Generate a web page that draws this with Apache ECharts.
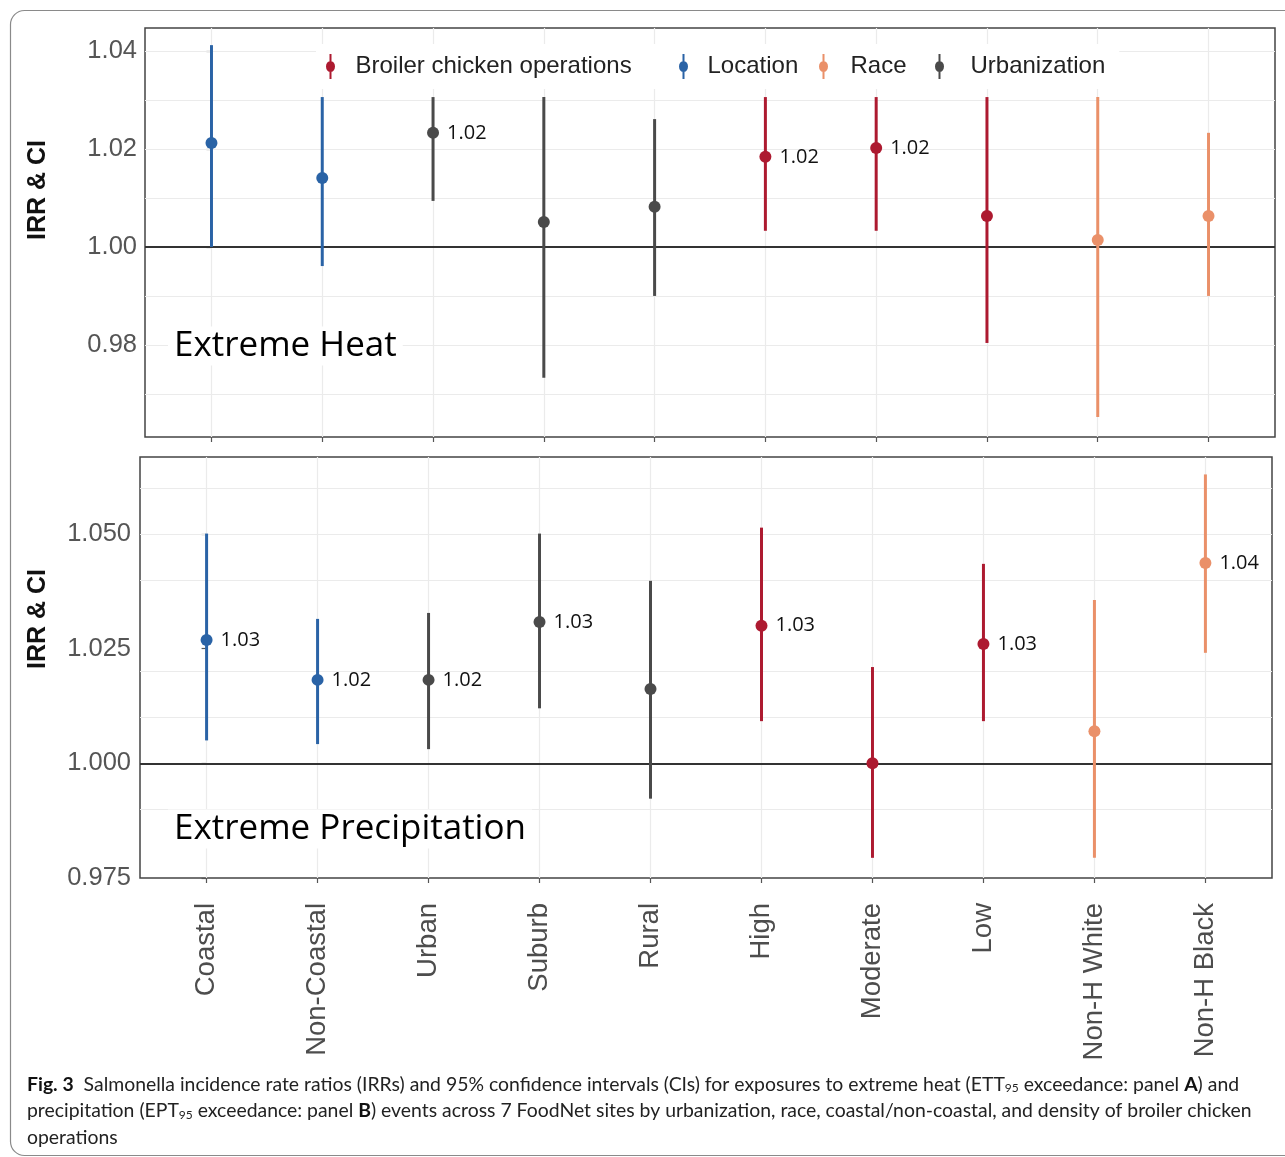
<!DOCTYPE html>
<html>
<head>
<meta charset="utf-8">
<script src="https://cdn.jsdelivr.net/npm/echarts@6/dist/echarts.min.js"></script>
<style>
html,body{margin:0;padding:0;background:#fff;}
#chart{width:1285px;height:1157px;}
</style>
</head>
<body>
<div id="chart"></div>
<script>
// ---------- data ----------
const categories = ['Coastal','Non-Coastal','Urban','Suburb','Rural','High','Moderate','Low','Non-H White','Non-H Black'];
const categoryGroups = ['Location','Location','Urbanization','Urbanization','Urbanization',
  'Broiler chicken operations','Broiler chicken operations','Broiler chicken operations','Race','Race'];
const groupNames = ['Broiler chicken operations','Location','Race','Urbanization'];

// Panel A: Extreme Heat
const heatEst = [1.0212, 1.0141, 1.0233, 1.0051, 1.0082, 1.0184, 1.0202, 1.0063, 1.0014, 1.0063];
const heatLo  = [1.0000, 0.9961, 1.0094, 0.9733, 0.9900, 1.0033, 1.0033, 0.9804, 0.9653, 0.9900];
const heatHi  = [1.0412, 1.0306, 1.0306, 1.0306, 1.0261, 1.0306, 1.0306, 1.0306, 1.0306, 1.0233];
const heatLabels = ['', '', '1.02', '', '', '1.02', '1.02', '', '', ''];

// Panel B: Extreme Precipitation
const precipEst = [1.0269, 1.0182, 1.0182, 1.0308, 1.0162, 1.0300, 1.0000, 1.0260, 1.0070, 1.0437];
const precipLo  = [1.0050, 1.0042, 1.0031, 1.0120, 0.9923, 1.0092, 0.9794, 1.0092, 0.9794, 1.0241];
const precipHi  = [1.0501, 1.0315, 1.0328, 1.0501, 1.0398, 1.0514, 1.0210, 1.0435, 1.0356, 1.0630];
const precipLabels = ['1.03', '1.02', '1.02', '1.03', '', '1.03', '', '1.03', '', '1.04'];

// axis ticks
const heatTicks = [0.98, 1.00, 1.02, 1.04];
const heatTickLabels = ['0.98', '1.00', '1.02', '1.04'];
const heatGridValues = [0.97, 0.98, 0.99, 1.00, 1.01, 1.02, 1.03, 1.04];
const precipTicks = [0.975, 1.000, 1.025, 1.050];
const precipTickLabels = ['0.975', '1.000', '1.025', '1.050'];
const precipGridValues = [0.975, 0.9875, 1.000, 1.0125, 1.025, 1.0375, 1.050, 1.0625];
const referenceValue = 1.0;

// ---------- styles ----------
const groupColors = {
  'Broiler chicken operations': '#ad1a30',
  'Location': '#2a63a6',
  'Race': '#ea9069',
  'Urbanization': '#4a4a4a'
};
const catIndex = categories.map((c, i) => i);

function makeSeries(panel, est, lo, hi, labels) {
  const out = [];
  groupNames.forEach(g => {
    const data = catIndex.filter(i => categoryGroups[i] === g)
      .map(i => [i, est[i], lo[i], hi[i], labels[i]]);
    out.push({
      type: 'custom',
      name: g,
      xAxisIndex: panel,
      yAxisIndex: panel,
      z: 5,
      itemStyle: { color: groupColors[g] },
      data: data,
      animation: false,
      renderItem: function (params, api) {
        const x = api.value(0);
        const pe = api.coord([x, api.value(1)]);
        const pl = api.coord([x, api.value(2)]);
        const ph = api.coord([x, api.value(3)]);
        const lab = data[params.dataIndex][4];
        const col = groupColors[g];
        const children = [
          { type: 'line', shape: { x1: pl[0], y1: pl[1], x2: ph[0], y2: ph[1] },
            style: { stroke: col, lineWidth: 3 } },
          { type: 'circle', shape: { cx: pe[0], cy: pe[1], r: 6 }, style: { fill: col } }
        ];
        if (lab) {
          children.push({ type: 'text', x: pe[0] + 14, y: pe[1],
            style: { text: lab, fill: '#111', font: '20px "Open Sans"', align: 'left', verticalAlign: 'middle' } });
        }
        return { type: 'group', children: children };
      }
    });
  });
  return out;
}

function gridSeries(panel, values) {
  const lines = [];
  catIndex.forEach(i => lines.push({ xAxis: i }));
  values.forEach(v => lines.push({ yAxis: v }));
  lines.push({ yAxis: referenceValue, lineStyle: { color: '#333', width: 2 } });
  return {
    type: 'line', name: 'grid' + panel, xAxisIndex: panel, yAxisIndex: panel, data: [],
    silent: true, z: 1, animation: false,
    markLine: {
      silent: true, symbol: ['none', 'none'], animation: false,
      label: { show: false },
      lineStyle: { color: '#ebebeb', width: 1.2, type: 'solid' },
      data: lines
    }
  };
}

const legendIcon = 'path://M4,0H6V25H4Z M0.5,12.5A4.5,5.5 0 1,1 9.5,12.5A4.5,5.5 0 1,1 0.5,12.5Z';
function makeLegend(name, iconLeft, textPad, padRight) {
  return {
    data: [name], left: iconLeft - 10, top: 44, padding: [10, padRight, 10, 10], orient: 'horizontal',
    backgroundColor: '#fff', z: 20,
    itemWidth: 10, itemHeight: 25, itemGap: 0, icon: legendIcon,
    textStyle: { fontFamily: 'Liberation Sans', fontSize: 24, color: '#222', padding: [0, 0, 0, textPad] }
  };
}

const xAxisBase = {
  type: 'value', min: -0.6, max: 9.6,
  splitLine: { show: false },
  axisLine: { show: false },
  axisTick: { show: true, length: 5, lineStyle: { color: '#555', width: 1.2 }, customValues: catIndex }
};

const option = {
  backgroundColor: '#fff',
  animation: false,
  legend: [
    makeLegend('Broiler chicken operations', 326, 15, 45),
    makeLegend('Location', 679, 14, 22),
    makeLegend('Race', 819, 17, 26),
    makeLegend('Urbanization', 935, 21, 14)
  ],
  grid: [
    { left: 145, top: 28, width: 1130, height: 409, show: true, borderColor: '#444', borderWidth: 1.5, backgroundColor: 'transparent' },
    { left: 140, top: 457, width: 1132, height: 421, show: true, borderColor: '#444', borderWidth: 1.5, backgroundColor: 'transparent' }
  ],
  xAxis: [
    Object.assign({}, xAxisBase, { gridIndex: 0, axisLabel: { show: false, customValues: catIndex } }),
    Object.assign({}, xAxisBase, { gridIndex: 1,
      axisLabel: { show: true, customValues: catIndex, rotate: 90, margin: 25,
        fontFamily: 'Liberation Sans', fontSize: 27.5, color: '#4d4d4d',
        formatter: v => categories[Math.round(v)] } })
  ],
  yAxis: [
    { type: 'value', gridIndex: 0, min: 0.9612, max: 1.0447,
      splitLine: { show: false }, axisLine: { show: false },
      axisTick: { show: true, length: 5, lineStyle: { color: '#555', width: 1.2 }, customValues: heatTicks },
      axisLabel: { customValues: heatTicks, margin: 8, fontFamily: 'Liberation Sans', fontSize: 25.5, color: '#555',
        formatter: v => heatTickLabels[heatTicks.findIndex(t => Math.abs(t - v) < 1e-6)] } },
    { type: 'value', gridIndex: 1, min: 0.975, max: 1.0668,
      splitLine: { show: false }, axisLine: { show: false },
      axisTick: { show: true, length: 5, lineStyle: { color: '#555', width: 1.2 }, customValues: precipTicks },
      axisLabel: { customValues: precipTicks, margin: 9, fontFamily: 'Liberation Sans', fontSize: 25.5, color: '#555',
        formatter: v => precipTickLabels[precipTicks.findIndex(t => Math.abs(t - v) < 1e-6)] } }
  ],
  graphic: [
    { type: 'rect', z: -10, silent: true, shape: { x: 10.5, y: 10.5, width: 1290, height: 1145, r: 14 },
      style: { fill: 'none', stroke: '#8a8a8a', lineWidth: 1.2 } },
    { type: 'text', x: 38, y: 190, rotation: Math.PI / 2,
      style: { text: 'IRR & CI', font: 'bold 25px "Liberation Sans"', fill: '#111', align: 'center', verticalAlign: 'middle' } },
    { type: 'text', x: 38, y: 619, rotation: Math.PI / 2,
      style: { text: 'IRR & CI', font: 'bold 25px "Liberation Sans"', fill: '#111', align: 'center', verticalAlign: 'middle' } },
    { type: 'text', x: 168, y: 346, z: 10,
      style: { text: 'Extreme Heat', font: '35px "Open Sans"', fill: '#000', align: 'left', verticalAlign: 'middle',
        backgroundColor: '#fff', padding: [2, 6, 2, 6] } },
    { type: 'text', x: 168, y: 829, z: 10,
      style: { text: 'Extreme Precipitation', font: '35px "Open Sans"', fill: '#000', align: 'left', verticalAlign: 'middle',
        backgroundColor: '#fff', padding: [2, 6, 2, 6] } },
    { type: 'text', x: 27, y: 1071,
      style: {
        text: '{b|Fig. 3}  Salmonella incidence rate ratios (IRRs) and 95% confidence intervals (CIs) for exposures to extreme heat (ETT{s|95} exceedance: panel {b|A}) and\n' +
              'precipitation (EPT{s|95} exceedance: panel {b|B}) events across 7 FoodNet sites by urbanization, race, coastal/non-coastal, and density of broiler chicken\n' +
              'operations',
        font: '19.4px Lato', fill: '#222', lineHeight: 26.5, align: 'left', verticalAlign: 'top',
        rich: {
          b: { fontFamily: 'Lato', fontSize: 19.4, fontWeight: 'bold', fill: '#111', lineHeight: 26.5 },
          s: { fontFamily: 'Lato', fontSize: 12, fill: '#222', lineHeight: 12, verticalAlign: 'bottom', padding: [0, 0, 3, 0] }
        }
      } }
  ],
  series: [
    gridSeries(0, heatGridValues),
    gridSeries(1, precipGridValues),
    ...makeSeries(0, heatEst, heatLo, heatHi, heatLabels),
    ...makeSeries(1, precipEst, precipLo, precipHi, precipLabels)
  ]
};

const chart = echarts.init(document.getElementById('chart'), null, { renderer: 'canvas' });
chart.setOption(option);
</script>
</body>
</html>
